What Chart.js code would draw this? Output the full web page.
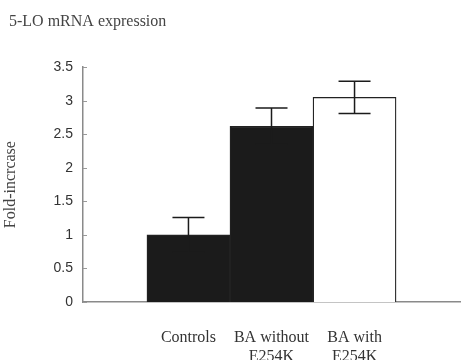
<!DOCTYPE html>
<html lang="en">
<head>
<meta charset="UTF-8">
<title>5-LO mRNA expression</title>
<script src="https://cdn.jsdelivr.net/npm/chart.js"></script>
<style>
    html, body { margin: 0; padding: 0; background: #fff; }
    canvas { display: block; }
</style>
</head>
<body>
<canvas id="chart" width="461" height="360"></canvas>
<script>
// values
const groups = [['Controls'], ['BA without', 'E254K'], ['BA with', 'E254K']];
const foldIncrease = [1.0, 2.62, 3.05];
const errors = [0.26, 0.27, 0.24];
const yTicks = [0, 0.5, 1, 1.5, 2, 2.5, 3, 3.5];

const serif = '"Liberation Serif", "Times New Roman", serif';
const sans = '"Liberation Sans", Arial, sans-serif';

// error bars (T shape) drawn on top of the bars
const errorBars = {
    id: 'errorBars',
    afterDatasetsDraw(chart) {
        const { ctx, scales: { y } } = chart;
        const meta = chart.getDatasetMeta(0);
        ctx.save();
        ctx.strokeStyle = '#1b1b1b';
        ctx.lineWidth = 1.5;
        meta.data.forEach((bar, i) => {
            const top = y.getPixelForValue(foldIncrease[i] + errors[i]);
            const bot = y.getPixelForValue(foldIncrease[i] - errors[i]);
            const half = 16;
            ctx.beginPath();
            ctx.moveTo(bar.x, top); ctx.lineTo(bar.x, bot);
            ctx.moveTo(bar.x - half, top); ctx.lineTo(bar.x + half, top);
            ctx.moveTo(bar.x - half, bot); ctx.lineTo(bar.x + half, bot);
            ctx.stroke();
        });
        ctx.restore();
    }
};

// small tick marks pointing inward from the y axis
const innerTicks = {
    id: 'innerTicks',
    afterDraw(chart) {
        const { ctx, scales: { y } } = chart;
        ctx.save();
        ctx.strokeStyle = '#999';
        ctx.lineWidth = 1;
        y.ticks.forEach(t => {
            const py = Math.round(y.getPixelForValue(t.value)) + 0.5;
            ctx.beginPath();
            ctx.moveTo(y.right, py);
            ctx.lineTo(y.right + 4, py);
            ctx.stroke();
        });
        ctx.restore();
    }
};

new Chart(document.getElementById('chart'), {
    type: 'bar',
    data: {
        datasets: [{
            data: foldIncrease.map((v, i) => ({ x: i + 1, y: v })),
            backgroundColor: ['#1b1b1b', '#1b1b1b', '#ffffff'],
            borderColor: '#222',
            borderWidth: 1.3,
            barPercentage: 1,
            categoryPercentage: 1
        }]
    },
    options: {
        responsive: false,
        animation: false,
        devicePixelRatio: 1,
        layout: { padding: { left: 9, right: 1, top: 0, bottom: 0 } },
        plugins: {
            legend: { display: false },
            tooltip: { enabled: false },
            title: {
                display: true,
                text: '5-LO mRNA expression',
                align: 'start',
                color: '#444',
                font: { family: serif, size: 16, weight: 'normal' },
                padding: { top: 12, bottom: 36 }
            }
        },
        scales: {
            x: {
                type: 'linear',
                min: -0.27,
                max: 4.27,
                offset: false,
                grid: { display: false, drawTicks: false },
                border: { color: '#8a8a8a', width: 1.5 },
                afterBuildTicks: s => { s.ticks = groups.map((g, i) => ({ value: i + 1 })); },
                afterFit: s => { s.height = 58; },
                ticks: {
                    padding: 26,
                    color: '#333',
                    autoSkip: false,
                    maxRotation: 0,
                    font: { family: serif, size: 16 },
                    callback: v => groups[v - 1] || ''
                }
            },
            y: {
                min: 0,
                max: 3.5,
                grid: { display: false, drawTicks: false },
                border: { color: '#8a8a8a', width: 1.5 },
                afterBuildTicks: s => { s.ticks = yTicks.map(v => ({ value: v })); },
                afterFit: s => { s.width = 74; },
                ticks: {
                    padding: 10,
                    color: '#333',
                    font: { family: sans, size: 14 },
                    callback: v => String(v)
                },
                title: {
                    display: true,
                    text: 'Fold-incrcase',
                    color: '#444',
                    font: { family: serif, size: 16 },
                    padding: { top: -8, bottom: 0 }
                }
            }
        }
    },
    plugins: [errorBars, innerTicks]
});
</script>
</body>
</html>
